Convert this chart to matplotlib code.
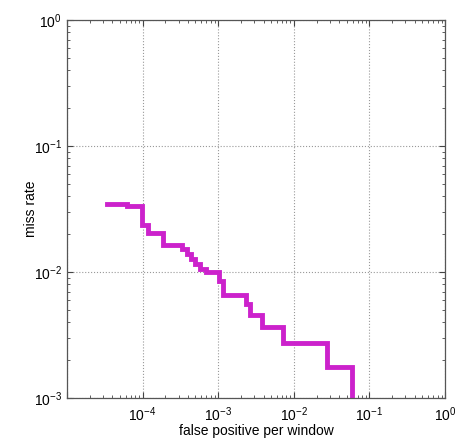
"""Curva miss rate vs false positive per window (log-log)."""
import matplotlib
matplotlib.use('Agg')
import matplotlib.pyplot as plt
import numpy as np
from matplotlib.ticker import LogLocator, NullFormatter, FuncFormatter

plt.rcParams['font.family'] = ['Liberation Sans', 'DejaVu Sans']
plt.rcParams['mathtext.fontset'] = 'custom'
plt.rcParams['mathtext.rm'] = 'Liberation Sans'
plt.rcParams['mathtext.it'] = 'Liberation Sans:italic'

# Datos (escalones)
fppw = [3.38e-5, 6.22e-5, 9.8e-5, 1.18e-4, 1.86e-4, 3.32e-4, 3.86e-4,
        4.37e-4, 4.93e-4, 5.74e-4, 6.90e-4, 1.03e-3, 1.16e-3, 2.33e-3,
        2.64e-3, 3.79e-3, 7.19e-3, 2.75e-2, 5.89e-2]
miss_rate = [0.0347, 0.0334, 0.0236, 0.0204, 0.0164, 0.0152, 0.0139,
             0.0127, 0.0116, 0.01057, 0.0100, 0.0085, 0.00657, 0.00557,
             0.00456, 0.00366, 0.00273, 0.00176, 0.0008]


def pow_label(v, pos):
    # sin etiqueta en el extremo izquierdo (10^-5)
    e = int(round(np.log10(v)))
    if e <= -5:
        return ''
    return r'$10^{%d}$' % e


fig = plt.figure(figsize=(4.55, 4.38), dpi=100)
ax = fig.add_axes([0.147, 0.0913, 0.831, 0.8627])
ax.plot(fppw, miss_rate, color='#cc22cc', linewidth=3.5,
        drawstyle='steps-post', solid_joinstyle='miter')
ax.set_xscale('log')
ax.set_yscale('log')
ax.set_xlim(1e-5, 1e0)
ax.set_ylim(1e-3, 1e0)

ax.xaxis.set_major_locator(LogLocator(base=10, numticks=10))
ax.yaxis.set_major_locator(LogLocator(base=10, numticks=10))
ax.xaxis.set_minor_locator(LogLocator(base=10, subs=range(2, 10), numticks=10))
ax.yaxis.set_minor_locator(LogLocator(base=10, subs=range(2, 10), numticks=10))
ax.xaxis.set_major_formatter(FuncFormatter(pow_label))
ax.xaxis.set_minor_formatter(NullFormatter())
ax.yaxis.set_minor_formatter(NullFormatter())

ax.tick_params(which='both', direction='in', top=True, right=True,
               labelsize=10, color='#444444')
ax.tick_params(which='major', length=4)
ax.tick_params(which='minor', length=2)
ax.tick_params(axis='x', pad=5)
ax.grid(True, which='major', linestyle=':', color='#999999', linewidth=0.8)
for s in ax.spines.values():
    s.set_color('#555555')
    s.set_linewidth(0.9)

ax.set_xlabel('false positive per window', fontsize=10, labelpad=0)
ax.set_ylabel('miss rate', fontsize=10, labelpad=-3)

fig.savefig('out.png', dpi=100)
